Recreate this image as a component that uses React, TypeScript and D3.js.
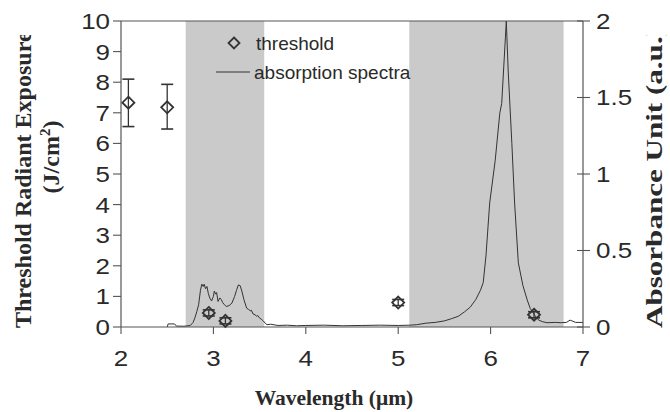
import React from 'react';
import * as d3 from 'd3';

const xTicks = [2, 3, 4, 5, 6, 7];
const leftTicks = [0, 1, 2, 3, 4, 5, 6, 7, 8, 9, 10];
const rightTicks = [0, 0.5, 1, 1.5, 2];
const rightTickLabels = ['0', '0.5', '1', '1.5', '2'];

const thresholdWavelength = [2.08, 2.5, 2.95, 3.13, 5.0, 6.47];
const thresholdValue = [7.33, 7.18, 0.46, 0.2, 0.8, 0.4];
const thresholdErrLow = [6.55, 6.47, 0.36, 0.1, 0.7, 0.3];
const thresholdErrHigh = [8.1, 7.93, 0.56, 0.3, 0.9, 0.5];

const bandStart = [2.7, 5.12];
const bandEnd = [3.55, 6.79];

const spectrumWavelength = [
  2.5, 2.51, 2.58, 2.6, 2.68, 2.75, 2.78, 2.8, 2.82, 2.84, 2.86, 2.875, 2.89, 2.9, 2.915, 2.93, 2.945,
  2.96, 2.98, 3.0, 3.01, 3.025, 3.035, 3.05, 3.07, 3.085, 3.1, 3.12, 3.14, 3.17, 3.2, 3.23, 3.25,
  3.27, 3.29, 3.31, 3.33, 3.36, 3.38, 3.4, 3.41, 3.43, 3.45, 3.47, 3.48, 3.5, 3.52, 3.54, 3.56, 3.58,
  3.62, 3.7, 3.8, 3.9, 4.0, 4.2, 4.4, 4.6, 4.8, 5.0, 5.13, 5.2, 5.3, 5.4, 5.5, 5.58, 5.65, 5.72,
  5.78, 5.84, 5.89, 5.92, 5.95, 5.99, 6.05, 6.1, 6.12, 6.16, 6.17, 6.19, 6.23, 6.26, 6.3, 6.35, 6.4,
  6.43, 6.48, 6.52, 6.56, 6.61, 6.7, 6.76, 6.82, 6.86, 6.88, 6.92, 7.0,
];
const spectrumAbsorbance = [
  0.0, 0.02, 0.02, 0.006, 0.005, 0.01, 0.03, 0.06, 0.1, 0.145, 0.24, 0.28, 0.265, 0.28, 0.25, 0.265, 0.22,
  0.19, 0.17, 0.2, 0.235, 0.215, 0.225, 0.167, 0.19, 0.18, 0.16, 0.145, 0.134, 0.14, 0.156, 0.2, 0.24,
  0.275, 0.27, 0.23, 0.18, 0.123, 0.115, 0.106, 0.11, 0.085, 0.08, 0.07, 0.075, 0.058, 0.05, 0.04, 0.025, 0.015,
  0.018, 0.01, 0.012, 0.008, 0.01, 0.012, 0.008, 0.01, 0.012, 0.01, 0.012, 0.015, 0.025, 0.03, 0.04, 0.055, 0.07, 0.1,
  0.13, 0.18, 0.24, 0.29, 0.465, 0.81, 1.09, 1.4, 1.46, 1.89, 2.0, 1.68, 1.2, 0.81, 0.42, 0.27, 0.17,
  0.12, 0.075, 0.045, 0.035, 0.028, 0.03, 0.028, 0.03, 0.045, 0.04, 0.03, 0.03,
];

const W = 670;
const H = 412;
const L = 121, R = 583, T = 21, B = 327;

const TXT = '#2a2a2a';
const AX = '#555';
const SANS = '"Liberation Sans", Arial, Helvetica, sans-serif';
const SERIF = '"Liberation Serif", "Times New Roman", serif';
const SX = 1.18; // horizontal stretch of the scanned tick digits

export default function App() {
  const x = d3.scaleLinear().domain([2, 7]).range([L, R]);
  const yL = d3.scaleLinear().domain([0, 10]).range([B, T]);
  const yR = d3.scaleLinear().domain([0, 2]).range([B, T]);

  const spectrum = spectrumWavelength.map((w, i) => [w, spectrumAbsorbance[i]] as [number, number]);
  const line = d3.line<[number, number]>().x(d => x(d[0])).y(d => yR(d[1]));

  const diamond = (cx: number, cy: number, r: number) =>
    `M${cx},${cy - r}L${cx + r},${cy}L${cx},${cy + r}L${cx - r},${cy}Z`;

  return (
    <svg width={W} height={H} style={{ position: 'absolute', left: 0, top: 0, background: '#fff' }}>
      <defs>
        <clipPath id="titleClip">
          <rect x={0} y={35} width={W} height={H - 35} />
        </clipPath>
      </defs>

      {/* shaded bands */}
      {bandStart.map((s, i) => (
        <rect key={'b' + i} x={x(s)} y={T} width={x(bandEnd[i]) - x(s)} height={B - T} fill="#cacaca" />
      ))}

      {/* spectrum */}
      <path d={line(spectrum) || ''} fill="none" stroke="#333" strokeWidth={1} />

      {/* axes frame */}
      <line x1={L} x2={L} y1={T} y2={B} stroke={AX} strokeWidth={1.2} />
      <line x1={R} x2={R} y1={T} y2={B} stroke={AX} strokeWidth={1.2} />
      <line x1={L} x2={R} y1={B} y2={B} stroke={AX} strokeWidth={1.2} />
      <line x1={L} x2={R} y1={T} y2={T} stroke={AX} strokeWidth={1.2} />

      {/* left ticks */}
      {leftTicks.map(t => (
        <g key={'l' + t}>
          <line x1={L - 8} x2={L} y1={yL(t)} y2={yL(t)} stroke={AX} strokeWidth={1.1} />
          <text
            transform={`translate(${L - 11},${yL(t)}) scale(${SX},1)`}
            dy="0.36em" textAnchor="end" fontFamily={SANS} fontSize={22} fill={TXT}
          >
            {t}
          </text>
        </g>
      ))}

      {/* right ticks */}
      {rightTicks.map((t, i) => (
        <g key={'r' + t}>
          <line x1={R - 6} x2={R + 7} y1={yR(t)} y2={yR(t)} stroke={AX} strokeWidth={1.1} />
          <text
            transform={`translate(${R + 13},${yR(t)}) scale(${SX},1)`}
            dy="0.36em" textAnchor="start" fontFamily={SANS} fontSize={22} fill={TXT}
          >
            {rightTickLabels[i]}
          </text>
        </g>
      ))}

      {/* bottom ticks */}
      {xTicks.map(t => (
        <g key={'x' + t}>
          <line x1={x(t)} x2={x(t)} y1={B} y2={B + 7} stroke={AX} strokeWidth={1.1} />
          <text
            transform={`translate(${x(t)},${B + 31}) scale(${SX},1)`}
            dy="0.36em" textAnchor="middle" fontFamily={SANS} fontSize={22} fill={TXT}
          >
            {t}
          </text>
        </g>
      ))}

      {/* threshold points */}
      {thresholdWavelength.map((w, i) => {
        const cx = x(w);
        const cy = yL(thresholdValue[i]);
        const y1 = yL(thresholdErrHigh[i]);
        const y2 = yL(thresholdErrLow[i]);
        return (
          <g key={'p' + i} stroke="#333" fill="none">
            <line x1={cx} x2={cx} y1={y1} y2={y2} strokeWidth={1.3} />
            <line x1={cx - 6} x2={cx + 6} y1={y1} y2={y1} strokeWidth={1.6} />
            <line x1={cx - 6} x2={cx + 6} y1={y2} y2={y2} strokeWidth={1.6} />
            <path d={diamond(cx, cy, 6)} strokeWidth={1.8} />
          </g>
        );
      })}

      {/* legend */}
      <path d={diamond(234, 43, 5.5)} fill="none" stroke="#333" strokeWidth={1.8} />
      <text x={256} y={43} dy="0.36em" fontFamily={SANS} fontSize={19} fill={TXT}>threshold</text>
      <line x1={216} x2={250} y1={72} y2={72} stroke="#333" strokeWidth={1} />
      <text x={254} y={72} dy="0.36em" fontFamily={SANS} fontSize={19} fill={TXT}>absorption spectra</text>

      {/* axis titles */}
      <g clipPath="url(#titleClip)">
        <text
          transform="translate(31,328) rotate(-90)"
          fontFamily={SERIF}
          fontWeight="bold"
          fontSize={24}
          fill={TXT}
        >
          Threshold Radiant Exposure
        </text>
        <text
          transform="translate(59,157) rotate(-90)"
          textAnchor="middle"
          fontFamily={SERIF}
          fontWeight="bold"
          fontSize={24}
          fill={TXT}
        >
          (J/cm<tspan dy="-9" fontSize={15}>2</tspan><tspan dy="9">)</tspan>
        </text>
        <text
          transform="translate(662,328) rotate(-90)"
          fontFamily={SERIF}
          fontWeight="bold"
          fontSize={23}
          textLength={302}
          lengthAdjust="spacingAndGlyphs"
          fill={TXT}
        >
          Absorbance Unit (a.u.)
        </text>
      </g>
      <text x={334} y={405} textAnchor="middle" fontFamily={SERIF} fontWeight="bold" fontSize={21.5} fill={TXT}>
        Wavelength (μm)
      </text>
    </svg>
  );
}
